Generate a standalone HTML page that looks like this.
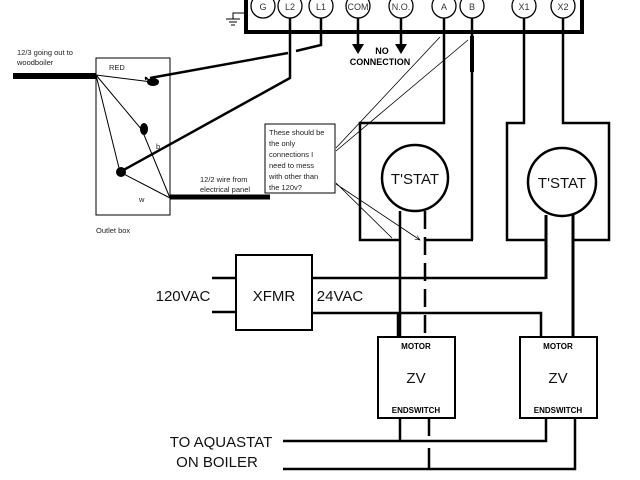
<!DOCTYPE html><html><head><style>body{margin:0;background:#fff}svg{display:block}</style></head><body>
<svg width="640" height="480" viewBox="0 0 640 480" xmlns="http://www.w3.org/2000/svg" font-family="Liberation Sans, Arial, sans-serif">
<defs><marker id="ah" viewBox="0 0 10 10" refX="9" refY="5" markerWidth="7" markerHeight="7" orient="auto"><path d="M0 1L9 5L0 9" fill="none" stroke="#000" stroke-width="1"/></marker></defs>
<g fill="none" stroke="#000">
<path d="M246 0V32H582V0" stroke-width="4"/>
<g stroke-width="1.3" fill="#fff">
<circle cx="263" cy="6" r="12"/><circle cx="290" cy="6" r="12"/><circle cx="321" cy="6" r="12"/>
<circle cx="358" cy="6" r="12"/><circle cx="401" cy="6" r="12"/><circle cx="444" cy="6" r="12"/>
<circle cx="472" cy="6" r="12"/><circle cx="524" cy="6" r="12"/><circle cx="563" cy="6" r="12"/>
</g>
<path d="M246 13H233V19M226 19H240M229 22H237M231 25H235" stroke-width="1"/>
<path d="M290 18V78L120 172" stroke-width="2.5"/>
<path d="M321 18V45L296 51" stroke-width="2.5"/>
<path d="M288 53L150 78" stroke-width="2.5"/>
<path d="M358 18V44M401 18V44" stroke-width="2.5"/>
<rect x="96" y="58" width="74" height="157" stroke-width="1"/>
<path d="M13 76H96" stroke-width="6"/>
<path d="M170 197H270" stroke-width="5"/>
<path d="M96 75L152 82M96 75L142 130M96 75L120 172M142 130L170 198M120 172L170 198" stroke-width="1"/>
<path d="M150 82Q144 74 146 80" stroke-width="1.5"/>
<rect x="265" y="124" width="70" height="69" stroke-width="1"/>
<path d="M336 148L440 37M336 151L468 40M336 183L392 238M336 184L420 240" stroke-width="0.8" marker-end="url(#ah)"/>
<path d="M444 18V123H360V240H400M425 240H473M472 18V240" stroke-width="2.5"/>
<path d="M472 36V72" stroke-width="4"/>
<circle cx="415" cy="178" r="33" stroke-width="2.5"/>
<path d="M400 211V337" stroke-width="2.5"/>
<path d="M425 211V337" stroke-width="2.5" stroke-dasharray="18 8"/>
<path d="M524 18V123H507V240H546M572 240H609V123H563V18" stroke-width="2.5"/>
<circle cx="562" cy="182" r="34" stroke-width="2.5"/>
<path d="M546 215V279M573 215V337" stroke-width="3"/>
<rect x="236" y="255" width="76" height="75" stroke-width="2"/>
<path d="M212 278H236M212 312H236M312 278H546M312 313H541V337M398 313V337" stroke-width="2.5"/>
<rect x="378" y="337" width="77" height="81" stroke-width="2"/>
<rect x="520" y="337" width="77" height="81" stroke-width="2"/>
<path d="M400 418V441M283 441H546V418M283 469H575V418" stroke-width="2.5"/>
<path d="M429 418V436M429 448V469" stroke-width="2.5"/>
</g>
<path d="M352 44H364L358 54Z M395 44H407L401 54Z" fill="#000"/>
<g fill="#000">
<ellipse cx="153" cy="82" rx="6" ry="4"/><ellipse cx="144" cy="129" rx="4" ry="6"/><ellipse cx="121" cy="172" rx="5" ry="5"/>
</g>
<g font-size="9" fill="#333" text-anchor="middle">
<text x="263" y="10">G</text><text x="290" y="10">L2</text><text x="321" y="10">L1</text>
<text x="358" y="10">COM</text><text x="401" y="10">N.O.</text><text x="444" y="10">A</text>
<text x="472" y="10">B</text><text x="524" y="10">X1</text><text x="563" y="10">X2</text>
</g>
<g font-size="9" font-weight="bold" text-anchor="middle"><text x="382" y="54">NO</text><text x="380" y="65">CONNECTION</text></g>
<g font-size="7.5" fill="#222">
<text x="17" y="55">12/3 going out to</text><text x="17" y="65">woodboiler</text>
<text x="109" y="70">RED</text><text x="156" y="149">b</text><text x="139" y="202">w</text>
<text x="96" y="233">Outlet box</text>
<text x="200" y="182">12/2 wire from</text><text x="200" y="192">electrical panel</text>
<text x="269" y="135">These should be</text><text x="269" y="146">the only</text>
<text x="269" y="157">connections I</text><text x="269" y="168">need to mess</text>
<text x="269" y="179">with other than</text><text x="269" y="190">the 120v?</text>
</g>
<g font-size="15" text-anchor="middle" fill="#111">
<text x="415" y="184">T'STAT</text><text x="562" y="188">T'STAT</text>
<text x="274" y="301">XFMR</text><text x="183" y="301">120VAC</text><text x="340" y="301">24VAC</text>
<text x="416" y="383">ZV</text><text x="558" y="383">ZV</text>
<text x="221" y="447">TO AQUASTAT</text><text x="217" y="467">ON BOILER</text>
</g>
<g font-size="8" font-weight="bold" text-anchor="middle">
<text x="416" y="349">MOTOR</text><text x="416" y="413">ENDSWITCH</text>
<text x="558" y="349">MOTOR</text><text x="558" y="413">ENDSWITCH</text>
</g>
</svg></body></html>
